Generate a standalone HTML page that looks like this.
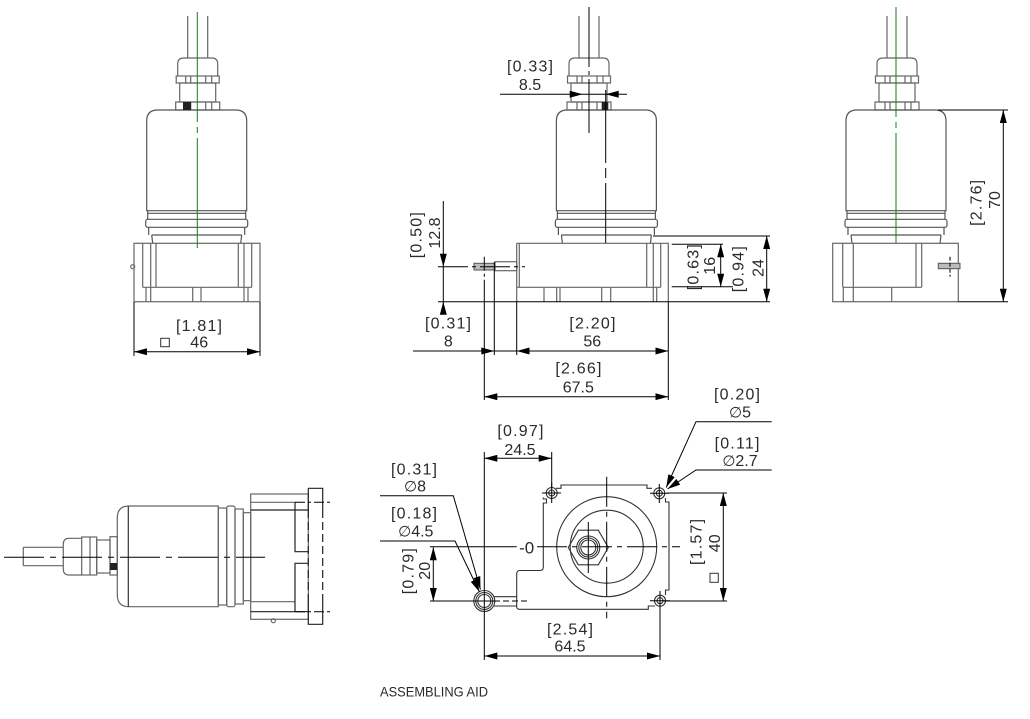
<!DOCTYPE html>
<html><head><meta charset="utf-8"><style>
html,body{margin:0;padding:0;background:#fff;}
svg{display:block;}
text{font-family:"Liberation Sans","DejaVu Sans",sans-serif;fill:#2a2a2a;font-size:16px;}
.b{letter-spacing:1.2px;}
.dia{font-family:"DejaVu Sans",sans-serif;font-size:15px;}
</style></head><body>
<svg width="1030" height="719" viewBox="0 0 1030 719" xmlns="http://www.w3.org/2000/svg">
<defs>
<marker id="a" viewBox="0 0 13 7" refX="13" refY="3.5" markerWidth="13" markerHeight="7" markerUnits="userSpaceOnUse" orient="auto-start-reverse"><path d="M0,0L13,3.5L0,7z" fill="#000"/></marker>
<g id="gl" fill="none" stroke="#666" stroke-width="1.2">
 <path d="M-10,16V58M10,16V58"/>
 <path d="M-20,76V64Q-20,58 -14,58H14Q20,58 20,64V76"/>
 <rect x="-21.5" y="76" width="43" height="7"/>
 <path d="M-12,76v7M-7,76v7M8,76v7M14,76v7"/>
 <rect x="-18" y="83" width="36" height="19"/>
 <rect x="-22" y="102" width="44" height="8"/>
 <path d="M-12,102v8M-7,102v8M8,102v8M14,102v8"/>
</g>
<g id="bd" fill="none" stroke="#555" stroke-width="1.2">
 <path d="M-50,210.7V121Q-50,110 -39,110H39Q50,110 50,121V210.7Z"/>
 <path d="M-49,210.7V219.3M49,210.7V219.3M-49,213.3H49"/>
 <rect x="-51" y="219.3" width="102" height="8" rx="2"/>
 <path d="M-48,227.3V235M48,227.3V235M-45,235H45M-45,235L-44,243.3M45,235L44,243.3"/>
</g>
</defs>

<!-- ============ TOP LEFT VIEW ============ -->
<use href="#gl" x="197.7"/>
<use href="#bd" x="196.7"/>
<rect x="183" y="102" width="8" height="8" fill="#222"/>
<g stroke="#666" fill="none" stroke-width="1.2">
<rect x="134" y="243.3" width="126" height="58.4"/>
<path d="M142.7,243.3V287.3M150.7,243.3V301.7M156,243.3V287.3M238.3,243.3V287.3M244,243.3V301.7M251.7,243.3V287.3M142.7,287.3H251.7M146,287.3V301.7M192.7,287.3V301.7M201,287.3V301.7M248,287.3V301.7"/>
<circle cx="132.7" cy="266.7" r="2"/>
</g>
<line x1="197.3" y1="12" x2="197.3" y2="252" stroke="#1a7a1a" stroke-width="1" stroke-dasharray="110 5 6 5"/>
<g stroke="#000" stroke-width="1" fill="none">
<path d="M134,302V356M260,302V356"/>
<line x1="134" y1="351.7" x2="260" y2="351.7" marker-start="url(#a)" marker-end="url(#a)"/>
</g>
<text class="b" x="199.6" y="331" text-anchor="middle">[1.81]</text>
<text x="199.2" y="347.7" text-anchor="middle">46</text>
<rect x="160.7" y="338.3" width="8.6" height="8.4" fill="none" stroke="#333" stroke-width="1"/>

<!-- ============ TOP MIDDLE VIEW ============ -->
<use href="#gl" x="589"/>
<use href="#bd" x="606.4"/>
<rect x="601.7" y="102" width="6.6" height="8" fill="#222"/>
<g stroke="#666" fill="none" stroke-width="1.2">
<path d="M516.7,243.3H668.3V301.7M516.7,243.3V301.7"/>
<path d="M519.3,243.3V287.3M516.7,287.3H660.7M544,287.3V301.7M556.7,287.3V301.7M560,287.3V301.7M601.7,287.3V301.7M610.7,287.3V301.7M646.7,243.3V287.3M653.3,243.3V301.7M660.7,243.3V287.3M656.7,287.3V301.7"/>
<rect x="495" y="261.7" width="21.7" height="9"/>
</g>
<rect x="474" y="263.3" width="21" height="6.7" fill="#bbb" stroke="#555" stroke-width="1"/>
<g stroke="#000" stroke-width="1" fill="none">
<line x1="589" y1="7" x2="589" y2="133" stroke-dasharray="60 4 4 4"/>
<line x1="605.7" y1="90" x2="605.7" y2="243" stroke-dasharray="73 5 10 5 200"/>
<line x1="500" y1="94.3" x2="627" y2="94.3"/>
<line x1="443.3" y1="201" x2="443.3" y2="313.7"/>
<line x1="438" y1="266.7" x2="525" y2="266.7" stroke-dasharray="30 4 4 4"/>
<line x1="438" y1="301.7" x2="770" y2="301.7"/>
<line x1="484.3" y1="256.7" x2="484.3" y2="400" stroke-dasharray="14 3 3 3 200"/>
<path d="M494.3,262V355M516.7,301.7V355M668.3,301.7V400"/>
<line x1="413" y1="351" x2="516.7" y2="351"/>
<line x1="516.7" y1="351" x2="668.3" y2="351" marker-start="url(#a)" marker-end="url(#a)"/>
<line x1="484.3" y1="396.7" x2="668.3" y2="396.7" marker-start="url(#a)" marker-end="url(#a)"/>
<path d="M653,236H770M671.7,244.3H723M671.7,286.7H733"/>
<line x1="720.7" y1="244.3" x2="720.7" y2="286.7" marker-start="url(#a)" marker-end="url(#a)"/>
<line x1="766.7" y1="236" x2="766.7" y2="301.7" marker-start="url(#a)" marker-end="url(#a)"/>
</g>
<g fill="#000">
<polygon points="582.7,94.3 569.7,90.8 569.7,97.8"/>
<polygon points="605.7,94.3 618.7,90.8 618.7,97.8"/>
<polygon points="443.3,266.7 439.8,253.7 446.8,253.7"/>
<polygon points="443.3,301.7 439.8,314.7 446.8,314.7"/>
<polygon points="494.3,351 481.3,347.5 481.3,354.5"/>
</g>
<text class="b" x="530.6" y="71.7" text-anchor="middle">[0.33]</text>
<text x="530" y="90" text-anchor="middle">8.5</text>
<text class="b" x="448.6" y="328.3" text-anchor="middle">[0.31]</text>
<text x="448.3" y="346.7" text-anchor="middle">8</text>
<text class="b" x="593" y="328.3" text-anchor="middle">[2.20]</text>
<text x="592.3" y="346.7" text-anchor="middle">56</text>
<text class="b" x="579" y="373.3" text-anchor="middle">[2.66]</text>
<text x="578.3" y="392.7" text-anchor="middle">67.5</text>
<text class="b" text-anchor="middle" transform="translate(421.7,234.6) rotate(-90)">[0.50]</text>
<text text-anchor="middle" transform="translate(440,233) rotate(-90)">12.8</text>
<text class="b" text-anchor="middle" transform="translate(698.3,266.6) rotate(-90)">[0.63]</text>
<text text-anchor="middle" transform="translate(715,265.8) rotate(-90)">16</text>
<text class="b" text-anchor="middle" transform="translate(743.3,268.6) rotate(-90)">[0.94]</text>
<text text-anchor="middle" transform="translate(763.3,268) rotate(-90)">24</text>

<!-- ============ TOP RIGHT VIEW ============ -->
<use href="#gl" x="897"/>
<use href="#bd" x="896"/>
<g stroke="#666" fill="none" stroke-width="1.2">
<rect x="832.7" y="243.3" width="125.6" height="58.4"/>
<path d="M842.7,243.3V287.3M853.3,243.3V301.7M916,243.3V287.3M921.7,243.3V287.3M842.7,287.3H921.7M891.7,287.3V301.7M843.3,287.3V301.7"/>
</g>
<rect x="938.3" y="263.3" width="21.7" height="5.4" fill="#bbb" stroke="#555" stroke-width="1"/>
<line x1="950" y1="256.7" x2="950" y2="276.7" stroke="#000" stroke-width="1" stroke-dasharray="4 2"/>
<line x1="896" y1="7" x2="896" y2="247" stroke="#1a7a1a" stroke-width="1" stroke-dasharray="110 5 6 5"/>
<g stroke="#000" stroke-width="1" fill="none">
<path d="M938,110H1008M958.3,301.7H1008"/>
<line x1="1003.3" y1="110" x2="1003.3" y2="301.7" marker-start="url(#a)" marker-end="url(#a)"/>
</g>
<text class="b" text-anchor="middle" transform="translate(981.7,202.3) rotate(-90)">[2.76]</text>
<text text-anchor="middle" transform="translate(1000,200) rotate(-90)">70</text>

<!-- ============ BOTTOM LEFT VIEW ============ -->
<g stroke="#666" fill="none" stroke-width="1.2">
<path d="M23.3,547.3H63.3M23.3,565.7H63.3M23.3,547.3V565.7"/>
<path d="M81.7,538.3H69Q63.3,538.3 63.3,544V569Q63.3,575 69,575H81.7"/>
<rect x="81.7" y="537" width="15" height="38"/>
<path d="M90,537V575"/>
<rect x="96.7" y="540" width="13.3" height="33"/>
<rect x="110" y="536.7" width="7.3" height="38.3"/>
<path d="M218.3,506H129Q117.3,506 117.3,518V594.7Q117.3,606.7 129,606.7H218.3Z"/>
<path d="M128.3,506V606.7" stroke="#333"/>
<rect x="218.3" y="508" width="8.4" height="97"/>
<rect x="226.7" y="506" width="8.3" height="100.7" rx="2"/>
<rect x="235" y="509" width="8.3" height="95"/>
<rect x="243.3" y="512.7" width="7.4" height="88"/>
<rect x="250.7" y="494" width="57.6" height="125.3"/>
<path d="M250.7,502.3H295M250.7,601.7H295"/>
<path d="M250.7,510H308.3M250.7,611.7H308.3M295,502.3V551.7H308.3M295,611.7V563.3H308.3" stroke="#222"/>
<path d="M308.3,488.3H322.7V510M308.3,488.3V510M308.3,602V624.3H322.7V602" stroke="#222"/>
<path d="M308.3,510V602M322.7,510V602" stroke="#222" stroke-dasharray="8 4"/>
<circle cx="273.3" cy="620.7" r="2"/>
</g>
<rect x="110" y="563" width="7" height="7" fill="#222"/>
<g stroke="#000" stroke-width="1" fill="none">
<line x1="4" y1="557.3" x2="265" y2="557.3" stroke-dasharray="40 6 6 6"/>
<path d="M295,502.3H330M295,611.7H330" stroke-dasharray="10 3 3 3"/>
</g>

<!-- ============ BOTTOM MIDDLE VIEW ============ -->
<g stroke="#333" fill="none" stroke-width="1.1">
<path d="M556,488.3H561V485H647V488.3H652"/>
<path d="M665.5,498V502H669V590H665.5V595"/>
<path d="M655,606H648.3V609.3H519.5Q516.7,609.3 516.7,606.5V574Q516.7,570.5 520,570.5H540Q543.3,570.5 543.3,567V503H546.5V499H543.3V497.5"/>
<circle cx="606.7" cy="546.7" r="50"/>
<circle cx="606.7" cy="546.7" r="36.5"/>
<polygon points="568.3,547.5 578.3,530.2 598.3,530.2 608.3,547.5 598.3,564.8 578.3,564.8"/>
<circle cx="588.3" cy="547.5" r="11.5"/>
<circle cx="588.3" cy="547.5" r="9.5"/>
<circle cx="588.3" cy="547.5" r="7.5"/>
<circle cx="551.7" cy="493" r="5.5"/><circle cx="551.7" cy="493" r="3"/>
<circle cx="659.3" cy="493.3" r="5.5"/><circle cx="659.3" cy="493.3" r="3"/>
<circle cx="660" cy="600.7" r="5.5"/><circle cx="660" cy="600.7" r="3"/>
<circle cx="484.3" cy="601" r="10.5"/><circle cx="484.3" cy="601" r="8.5"/><circle cx="484.3" cy="601" r="6.5"/>
<path d="M494,596.7H516.7M494,606H516.7"/>
</g>
<g stroke="#000" stroke-width="1" fill="none">
<path d="M494,601H527" stroke-dasharray="6 3"/>
<path d="M542,493H561M551.7,483V503M650,493.3H669M659.3,484V503M650,600.7H670M660,591V610M471,601H497"/>
<path d="M588.3,522V573"/>
<line x1="430" y1="546.7" x2="516.7" y2="546.7"/>
<line x1="537" y1="546.7" x2="680" y2="546.7" stroke-dasharray="30 5 5 5"/>
<line x1="606.7" y1="476.7" x2="606.7" y2="618.3" stroke-dasharray="30 5 5 5"/>
<path d="M484.3,452V660M551.7,452V488"/>
<line x1="484.3" y1="458.3" x2="551.7" y2="458.3" marker-start="url(#a)" marker-end="url(#a)"/>
<path d="M660,606V660"/>
<line x1="484.3" y1="656" x2="660" y2="656" marker-start="url(#a)" marker-end="url(#a)"/>
<path d="M666.7,493H727M663,601H727"/>
<line x1="723.3" y1="493" x2="723.3" y2="601" marker-start="url(#a)" marker-end="url(#a)"/>
<path d="M430,601H471"/>
<line x1="433.3" y1="547.3" x2="433.3" y2="601" marker-start="url(#a)" marker-end="url(#a)"/>
<polyline points="380,495.7 453.3,495.7 480.5,589.5" marker-end="url(#a)"/>
<polyline points="380,541 455,541 479.5,592" marker-end="url(#a)"/>
<polyline points="771.7,421.7 696,421.7 666.2,487.5" marker-end="url(#a)"/>
<polyline points="771.7,470 696,470 667.5,489" marker-end="url(#a)"/>
</g>
<text class="b" x="521" y="436" text-anchor="middle">[0.97]</text>
<text x="520" y="455" text-anchor="middle">24.5</text>
<text class="b" x="414.6" y="474.3" text-anchor="middle">[0.31]</text>
<text x="415" y="491.7" text-anchor="middle"><tspan class="dia">∅</tspan>8</text>
<text class="b" x="414.6" y="518.3" text-anchor="middle">[0.18]</text>
<text x="415.8" y="536.7" text-anchor="middle"><tspan class="dia">∅</tspan>4.5</text>
<text x="526.7" y="553.5" text-anchor="middle" style="font-size:17px">-0</text>
<text class="b" x="570.6" y="634.7" text-anchor="middle">[2.54]</text>
<text x="570" y="651.7" text-anchor="middle">64.5</text>
<text class="b" x="737.6" y="399.3" text-anchor="middle">[0.20]</text>
<text x="740" y="417.3" text-anchor="middle"><tspan class="dia">∅</tspan>5</text>
<text class="b" x="737.6" y="448.3" text-anchor="middle">[0.11]</text>
<text x="740" y="466" text-anchor="middle"><tspan class="dia">∅</tspan>2.7</text>
<text class="b" text-anchor="middle" transform="translate(701.7,541.4) rotate(-90)">[1.57]</text>
<text text-anchor="middle" transform="translate(720,543.3) rotate(-90)">40</text>
<rect x="710" y="573.3" width="8.3" height="9" fill="none" stroke="#333" stroke-width="1"/>
<text class="b" text-anchor="middle" transform="translate(413.3,570.6) rotate(-90)">[0.79]</text>
<text text-anchor="middle" transform="translate(430,570.8) rotate(-90)">20</text>

<text x="380" y="696.7" style="font-size:14px" textLength="108" lengthAdjust="spacingAndGlyphs">ASSEMBLING AID</text>
</svg>
</body></html>
